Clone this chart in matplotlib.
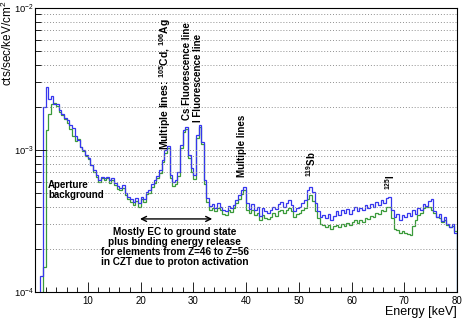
import numpy as np
import matplotlib
matplotlib.use("Agg")
import matplotlib.pyplot as plt
from matplotlib.ticker import LogLocator, FixedLocator, NullFormatter

# ---------------- data (counts in units of 1e-4 cts/sec/keV/cm^2, 0.5 keV bins) ----
e_min, e_max, bin_width = 0.0, 80.0, 0.5

blue_vals = [
    0.5, 0.5, 1.3, 20, 27.8, 23, 24, 21, 21, 19,
    18, 16.8, 16.2, 15, 14.3, 12.5, 11.8, 10.5, 10, 9.2,
    8.8, 7.8, 7.2, 6.7, 6.15, 6.5, 6.3, 6.5, 6.15, 6.3,
    5.9, 5.6, 5.4, 5.7, 5.0, 4.7, 4.5, 4.3, 4.6, 4.2,
    4.7, 4.5, 5.1, 5.2, 5.8, 6.15, 6.6, 7.2, 8.5, 10,
    10.7, 6.7, 6.0, 6.15, 7.0, 10.8, 13.8, 14.5, 9.2, 7.5,
    6.7, 12.7, 15, 11.4, 6.15, 4.6, 4.05, 4.15, 3.9, 4.2,
    4.0, 3.8, 3.7, 4.05, 3.9, 4.1, 4.45, 4.8, 5.2, 5.5,
    4.2, 3.85, 4.15, 3.8, 4.0, 3.45, 3.9, 3.7, 3.6, 3.8,
    4.0, 3.85, 4.15, 4.3, 4.0, 4.2, 4.45, 4.1, 3.7, 3.9,
    4.0, 4.2, 4.45, 5.2, 5.5, 5.1, 4.2, 3.7, 3.4, 3.5,
    3.3, 3.55, 3.2, 3.45, 3.7, 3.5, 3.8, 3.6, 3.85, 3.55,
    3.8, 4.0, 3.7, 3.9, 3.75, 4.1, 3.9, 4.15, 4.0, 4.3,
    4.1, 4.45, 4.2, 4.6, 4.7, 3.8, 3.4, 3.55, 3.2, 3.5,
    3.35, 3.6, 3.45, 3.75, 3.55, 3.9, 3.8, 4.15, 4.05, 4.35,
    4.5, 3.7, 3.35, 3.55, 3.15, 3.35, 3.0, 2.85, 3.0, 2.6,
]

green_vals = [
    0.5, 0.5, 0.5, 1.5, 13.8, 18, 21, 21.5, 20.5, 18.5,
    17.5, 16.5, 15.5, 14, 12.5, 11.5, 12, 10.5, 9.8, 9.0,
    8.6, 7.8, 7.0, 6.5, 6.0, 6.3, 6.1, 6.3, 5.9, 6.1,
    5.7, 5.3, 5.2, 5.4, 4.8, 4.5, 4.3, 4.1, 4.4, 4.0,
    4.5, 4.3, 4.9, 5.0, 5.5, 5.9, 6.3, 6.9, 8.2, 9.6,
    10.3, 6.3, 5.6, 5.8, 6.6, 10.3, 13.3, 14.0, 8.8, 7.0,
    6.2, 12.2, 14.5, 11.0, 5.8, 4.3, 3.8, 3.9, 3.7, 3.9,
    3.75, 3.55, 3.5, 3.8, 3.65, 3.9, 4.2, 4.5, 4.9, 5.2,
    3.8, 3.6, 3.8, 3.5, 3.6, 3.2, 3.5, 3.3, 3.25, 3.4,
    3.6, 3.45, 3.7, 3.8, 3.6, 3.75, 3.9, 3.7, 3.4, 3.55,
    3.6, 3.75, 3.9, 4.5, 4.8, 4.4, 3.7, 3.3, 3.0, 2.95,
    2.85, 2.95, 2.8, 2.9, 2.95, 2.85, 3.0, 2.9, 3.05, 2.95,
    3.1, 3.2, 3.05, 3.2, 3.1, 3.3, 3.25, 3.45, 3.4, 3.6,
    3.55, 3.8, 3.7, 3.95, 4.0, 3.3, 2.8, 2.75, 2.6, 2.7,
    2.6, 2.55, 2.5, 2.9, 3.2, 3.5, 3.6, 3.9, 3.95, 4.0,
    3.8, 3.6, 3.4, 3.3, 3.1, 3.2, 2.95, 2.85, 2.9, 2.7,
]

x_major_ticks = [10, 20, 30, 40, 50, 60, 70, 80]
y_limits = (1e-4, 1e-2)
unit = 1e-4

# ---------------- figure ----------------
plt.rcParams['font.family'] = ['Liberation Sans', 'DejaVu Sans']
plt.rcParams['mathtext.fontset'] = 'custom'
plt.rcParams['mathtext.rm'] = 'Liberation Sans'
plt.rcParams['mathtext.bf'] = 'Liberation Sans:bold'
fig = plt.figure(figsize=(4.65, 3.18), dpi=100)
ax = fig.add_axes([35/465, 1-292/318, (457-35)/465, (292-8)/318])

edges = np.arange(e_min, e_max + bin_width/2, bin_width)
ax.stairs(np.array(green_vals) * unit, edges, color='#3a9a3a', lw=0.9)
ax.stairs(np.array(blue_vals) * unit, edges, color='#3636ee', lw=0.9)

ax.set_yscale('log')
ax.set_xlim(e_min, e_max)
ax.set_ylim(*y_limits)

# grid on every log tick
ax.yaxis.set_major_locator(LogLocator(base=10, numticks=5))
ax.yaxis.set_minor_locator(LogLocator(base=10, subs=np.arange(2, 10), numticks=20))
ax.yaxis.set_minor_formatter(NullFormatter())
ax.grid(True, which='both', axis='y', ls=(0, (1, 2)), color='#909090', lw=0.7)
ax.grid(False, axis='x')

ax.xaxis.set_major_locator(FixedLocator(x_major_ticks))
ax.xaxis.set_minor_locator(FixedLocator(np.arange(2, 80, 2)))
ax.tick_params(axis='both', which='both', direction='in', top=False, right=False,
               labelsize=7, colors='black')
ax.tick_params(axis='x', which='major', length=7, width=0.6, pad=3)
ax.tick_params(axis='x', which='minor', length=3.5, width=0.6)
ax.tick_params(axis='y', which='major', length=8, width=0.6, pad=1, labelsize=6.8)
ax.tick_params(axis='y', which='minor', length=4, width=0.6)
for sp in ax.spines.values():
    sp.set_linewidth(0.8)

fig.text(457/465, 1-306/318, 'Energy [keV]', ha='right', va='top', fontsize=9)
fig.text(7/465, 1-1/318, 'cts/sec/keV/cm$^{2}$', rotation=90, ha='center', va='top',
         fontsize=8.5)

# ---------------- annotations ----------------
bold = dict(fontweight='bold', fontsize=7)
ax.text(2.5, 6.1e-4, 'Aperture\nbackground', ha='left', va='top', linespacing=1.0, **bold)
ax.text(24.6, 1.0e-3, r'Multiple lines: $^{\mathbf{105}}$Cd, $^{\mathbf{106}}$Ag', rotation=90,
        ha='center', va='bottom', fontweight='bold', fontsize=7.5)
ax.text(28.8, 1.62e-3, 'Cs Fluorescence line', rotation=90, ha='center', va='bottom', **bold)
ax.text(30.9, 1.57e-3, 'I Fluorescence line', rotation=90, ha='center', va='bottom', **bold)
ax.text(39.2, 6.45e-4, 'Multiple lines', rotation=90, ha='center', va='bottom', **bold)
ax.text(52.3, 6.45e-4, r'$^{\mathbf{119}}$Sb', rotation=90, ha='center', va='bottom', **bold)
ax.text(67.3, 5.2e-4, r'$^{\mathbf{125}}$I', rotation=90, ha='center', va='bottom', **bold)

ax.annotate('', xy=(19.9, 3.27e-4), xytext=(33.6, 3.27e-4),
            arrowprops=dict(arrowstyle='<->', color='black', lw=1.0,
                            mutation_scale=9, shrinkA=0, shrinkB=0))
ax.text(26.5, 2.87e-4,
        'Mostly EC to ground state\nplus binding energy release\n'
        'for elements from Z=46 to Z=56\nin CZT due to proton activation',
        ha='center', va='top', linespacing=1.0, fontweight='bold', fontsize=7.2)

fig.savefig('out.png', dpi=100)
